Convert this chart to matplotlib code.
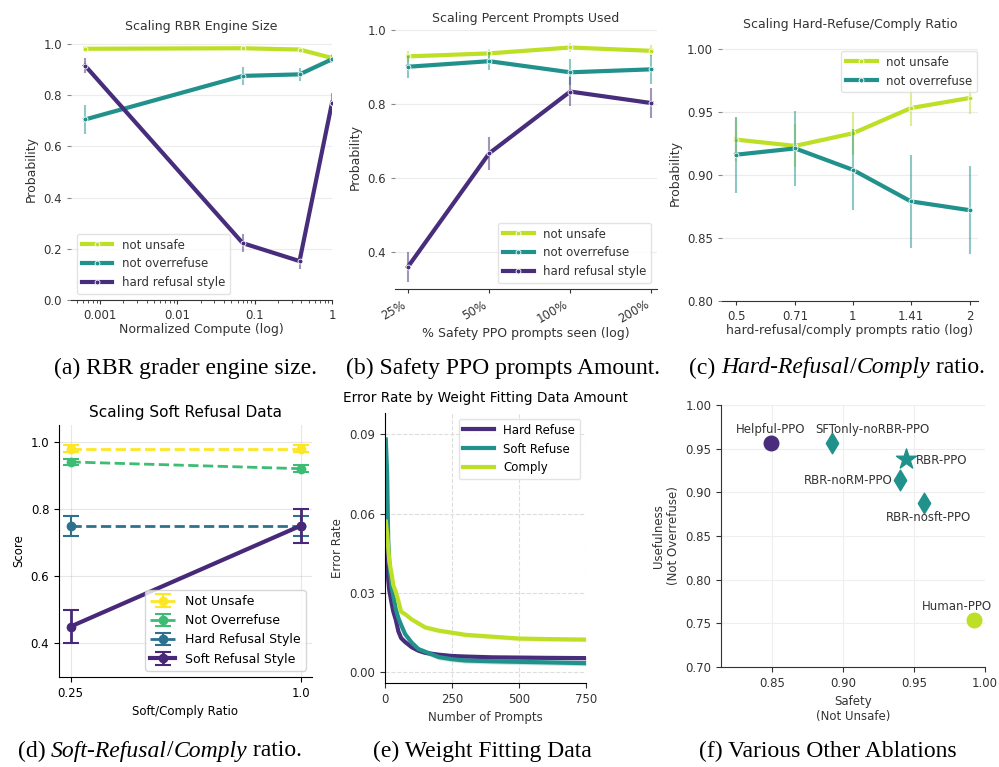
import numpy as np
import matplotlib
matplotlib.use('Agg')
from matplotlib import pyplot as plt
from matplotlib.ticker import NullLocator

# ---- (a) RBR grader engine size
a_compute = [0.00064, 0.07, 0.38, 1.0]
a_unsafe = [0.981, 0.983, 0.978, 0.945]
a_unsafe_err = [0.006, 0.006, 0.006, 0.015]
a_over = [0.705, 0.875, 0.881, 0.940]
a_over_err = [0.055, 0.035, 0.025, 0.015]
a_hard = [0.915, 0.222, 0.152, 0.770]
a_hard_err = [0.028, 0.035, 0.032, 0.04]

# ---- (b) safety PPO prompts amount
b_labels = ['25%', '50%', '100%', '200%']
b_unsafe = [0.928, 0.936, 0.952, 0.943]
b_unsafe_err = [0.015, 0.013, 0.012, 0.015]
b_over = [0.900, 0.915, 0.885, 0.893]
b_over_err = [0.03, 0.025, 0.035, 0.04]
b_hard = [0.360, 0.666, 0.833, 0.802]
b_hard_err = [0.04, 0.045, 0.038, 0.04]

# ---- (c) hard-refusal / comply ratio
c_ratio = [0.5, 0.71, 1.0, 1.41, 2.0]
c_ratio_labels = ['0.5', '0.71', '1', '1.41', '2']
c_unsafe = [0.928, 0.923, 0.933, 0.953, 0.961]
c_unsafe_err = [0.017, 0.017, 0.017, 0.014, 0.013]
c_over = [0.916, 0.921, 0.904, 0.879, 0.872]
c_over_err = [0.030, 0.030, 0.032, 0.037, 0.035]

# ---- (d) soft-refusal / comply ratio
d_ratio = [0.25, 1.0]
d_series = ['Not Unsafe', 'Not Overrefuse', 'Hard Refusal Style', 'Soft Refusal Style']
d_values = [[0.98, 0.98], [0.94, 0.92], [0.75, 0.75], [0.45, 0.75]]
d_errors = [[0.01, 0.01], [0.01, 0.01], [0.03, 0.03], [0.05, 0.05]]

# ---- (e) weight fitting data
e_prompts = [3, 8, 12, 16, 25, 31, 40, 50, 60, 75, 100, 125, 150, 200, 250, 300, 400, 500, 600, 750]
e_hard = [0.065, 0.045, 0.035, 0.031, 0.026, 0.023, 0.020, 0.0155, 0.013, 0.0115, 0.0095, 0.0082,
          0.0074, 0.0067, 0.0062, 0.0060, 0.0057, 0.0056, 0.0055, 0.0054]
e_soft = [0.088, 0.075, 0.050, 0.042, 0.032, 0.029, 0.024, 0.0205, 0.018, 0.0145, 0.0112, 0.0088,
          0.0078, 0.0058, 0.0050, 0.0045, 0.0042, 0.0040, 0.0038, 0.0035]
e_comply = [0.057, 0.052, 0.047, 0.042, 0.037, 0.033, 0.0305, 0.027, 0.023, 0.022, 0.020, 0.0185,
            0.017, 0.0158, 0.0150, 0.0142, 0.0135, 0.0128, 0.0126, 0.0124]

# ---- (f) other ablations
f_names = ['Helpful-PPO', 'SFTonly-noRBR-PPO', 'RBR-PPO', 'RBR-noRM-PPO', 'RBR-nosft-PPO', 'Human-PPO']
f_safety = [0.849, 0.892, 0.944, 0.940, 0.957, 0.992]
f_useful = [0.956, 0.956, 0.938, 0.914, 0.888, 0.754]

YG = '#bddf26'
TEAL = '#21918c'
PURP = '#472d7b'
DARK = '#333333'

W, H = 999, 767
fig = plt.figure(figsize=(W / 100, H / 100), dpi=100)


def add_ax(left, top, right, bottom):
    return fig.add_axes([left / W, 1 - bottom / H, (right - left) / W, (bottom - top) / H])


def sns_style(ax):
    for s in ['left', 'top', 'right']:
        ax.spines[s].set_visible(False)
    ax.spines['bottom'].set_color(DARK)
    ax.grid(axis='y', color='#ececec', lw=0.8)
    ax.set_axisbelow(True)
    ax.tick_params(colors=DARK, labelsize=8.5, length=3)
    ax.tick_params(axis='y', color='#888888')


def line_err(ax, x, y, err, color, label):
    y = np.array(y)
    err = np.array(err)
    ax.vlines(x, y - err, y + err, color=color, alpha=0.5, lw=1.5)
    ax.plot(x, y, color=color, lw=3, marker='o', ms=3.5, mec='white', mew=0.6, label=label)


def legend(ax, loc, **kw):
    lg = ax.legend(loc=loc, fontsize=8.5, handlelength=2.6, labelcolor=DARK, **kw)
    lg.get_frame().set_edgecolor('#dddddd')
    return lg


# (a)
ax = add_ax(71, 38, 332, 300)
sns_style(ax)
line_err(ax, a_compute, a_unsafe, a_unsafe_err, YG, 'not unsafe')
line_err(ax, a_compute, a_over, a_over_err, TEAL, 'not overrefuse')
line_err(ax, a_compute, a_hard, a_hard_err, PURP, 'hard refusal style')
ax.set_xscale('log')
ax.set_xlim(0.00042, 1.0)
ax.set_ylim(0, 1.023)
ax.set_xticks([0.001, 0.01, 0.1, 1])
ax.set_xticklabels(['0.001', '0.01', '0.1', '1'])
ax.set_yticks([0, 0.2, 0.4, 0.6, 0.8, 1.0])
ax.tick_params(axis='x', which='minor', length=2, color=DARK)
ax.set_title('Scaling RBR Engine Size', fontsize=9, color=DARK)
ax.set_xlabel('Normalized Compute (log)', fontsize=9, color=DARK, labelpad=1)
ax.set_ylabel('Probability', fontsize=9, color=DARK)
legend(ax, 'lower left')

# (b)
ax = add_ax(395, 26, 657, 289)
sns_style(ax)
bx = np.arange(len(b_labels))
line_err(ax, bx, b_unsafe, b_unsafe_err, YG, 'not unsafe')
line_err(ax, bx, b_over, b_over_err, TEAL, 'not overrefuse')
line_err(ax, bx, b_hard, b_hard_err, PURP, 'hard refusal style')
ax.set_xlim(-0.16, 3.07)
ax.set_ylim(0.3, 1.01)
ax.set_xticks(bx)
ax.set_xticklabels(b_labels, rotation=30, ha='right')
ax.set_yticks([0.4, 0.6, 0.8, 1.0])
ax.set_title('Scaling Percent Prompts Used', fontsize=9, color=DARK, pad=3)
ax.set_xlabel('% Safety PPO prompts seen (log)', fontsize=9, color=DARK, labelpad=1)
ax.set_ylabel('Probability', fontsize=9, color=DARK)
legend(ax, 'lower right')

# (c)
ax = add_ax(722, 45, 978, 301)
sns_style(ax)
line_err(ax, c_ratio, c_unsafe, c_unsafe_err, YG, 'not unsafe')
line_err(ax, c_ratio, c_over, c_over_err, TEAL, 'not overrefuse')
ax.set_xscale('log', base=2)
ax.xaxis.set_minor_locator(NullLocator())
ax.set_xlim(0.46, 2.1)
ax.set_xticks(c_ratio)
ax.set_xticklabels(c_ratio_labels)
ax.set_ylim(0.8, 1.003)
ax.set_yticks([0.80, 0.85, 0.90, 0.95, 1.00])
ax.set_yticklabels(['0.80', '0.85', '0.90', '0.95', '1.00'])
ax.set_title('Scaling Hard-Refuse/Comply Ratio', fontsize=9, color=DARK, pad=12)
ax.set_xlabel('hard-refusal/comply prompts ratio (log)', fontsize=9, color=DARK, labelpad=1)
ax.set_ylabel('Probability', fontsize=9, color=DARK)
legend(ax, 'upper right', bbox_to_anchor=(1.02, 1.0))

# (d)
ax = add_ax(59, 425, 312, 677)
d_colors = ['#fde725', '#3dbc74', '#2c728e', '#482878']
for i, name in enumerate(d_series):
    soft = i == 3
    ax.errorbar(d_ratio, d_values[i], yerr=d_errors[i], color=d_colors[i], marker='o', ms=6,
                ls='-' if soft else '--', lw=3 if soft else 2, capsize=6, elinewidth=2 if soft else 1.5,
                capthick=1.5, label=name)
ax.set_xlim(0.2125, 1.0375)
ax.set_ylim(0.3, 1.05)
ax.set_xticks(d_ratio)
ax.set_xticklabels(['0.25', '1.0'])
ax.set_yticks([0.4, 0.6, 0.8, 1.0])
ax.grid(alpha=0.3)
ax.spines['top'].set_visible(False)
ax.spines['right'].set_visible(False)
ax.tick_params(labelsize=8.5)
ax.set_title('Scaling Soft Refusal Data', fontsize=11)
ax.set_xlabel('Soft/Comply Ratio', fontsize=8.5)
ax.set_ylabel('Score', fontsize=8.5)
ax.legend(loc='lower right', fontsize=9)

# (e)
ax = add_ax(385, 413, 586, 683)
for vals, c, name, band in [(e_hard, PURP, 'Hard Refuse', 0.0007), (e_soft, TEAL, 'Soft Refuse', 0.001),
                            (e_comply, YG, 'Comply', 0.0008)]:
    v = np.array(vals)
    ax.fill_between(e_prompts, v - band, v + band, color=c, alpha=0.25, lw=0)
    ax.plot(e_prompts, v, color=c, lw=3, label=name)
ax.set_xlim(0, 750)
ax.set_ylim(-0.004, 0.098)
ax.set_xticks([0, 250, 500, 750])
ax.set_yticks([0.0, 0.03, 0.06, 0.09])
ax.set_yticklabels(['0.00', '0.03', '0.06', '0.09'])
ax.grid(ls='--', color='#dddddd', lw=0.8)
ax.spines['top'].set_visible(False)
ax.spines['right'].set_visible(False)
ax.tick_params(labelsize=8.5, colors=DARK)
ax.set_title('Error Rate by Weight Fitting Data Amount', fontsize=9.8, pad=8)
ax.set_xlabel('Number of Prompts', fontsize=8.5, color=DARK)
ax.set_ylabel('Error Rate', fontsize=8.5, color=DARK)
lg = ax.legend(loc='upper right', fontsize=8.5, handlelength=2.6)
lg.get_frame().set_edgecolor('#dddddd')

# (f)
ax = add_ax(721, 405, 985, 667)
f_colors = [PURP, TEAL, TEAL, TEAL, TEAL, YG]
f_markers = ['o', 'd', '*', 'd', 'd', 'o']
f_sizes = [110, 110, 230, 110, 110, 110]
f_text = [(0.849, 0.9725, 'center'), (0.921, 0.9725, 'center'), (0.951, 0.937, 'left'),
          (0.935, 0.914, 'right'), (0.960, 0.871, 'center'), (0.980, 0.769, 'center')]
for i, name in enumerate(f_names):
    ax.scatter(f_safety[i], f_useful[i], color=f_colors[i], marker=f_markers[i], s=f_sizes[i], zorder=3)
    tx, ty, ha = f_text[i]
    ax.text(tx, ty, name, ha=ha, va='center', fontsize=8.5, color=DARK)
ax.set_xlim(0.814, 1.0)
ax.set_ylim(0.7, 1.0)
ax.set_xticks([0.85, 0.90, 0.95, 1.00])
ax.set_xticklabels(['0.85', '0.90', '0.95', '1.00'])
ax.set_yticks([0.70, 0.75, 0.80, 0.85, 0.90, 0.95, 1.00])
ax.set_yticklabels(['0.70', '0.75', '0.80', '0.85', '0.90', '0.95', '1.00'])
ax.grid(color='#eeeeee')
ax.set_axisbelow(True)
ax.spines['top'].set_visible(False)
ax.spines['right'].set_visible(False)
ax.spines['left'].set_color(DARK)
ax.spines['bottom'].set_color(DARK)
ax.tick_params(labelsize=8.5, colors=DARK)
ax.set_xlabel('Safety\n(Not Unsafe)', fontsize=8.5, color=DARK)
ax.set_ylabel('Usefulness\n(Not Overrefuse)', fontsize=8.5, color=DARK)


# captions, italic parts drawn as separate pieces
renderer = fig.canvas.get_renderer()


def caption(cx, cy, pieces):
    texts = []
    for s, italic in pieces:
        t = fig.text(0, 1 - cy / H, s, fontsize=17, family='Liberation Serif',
                     style='italic' if italic else 'normal', va='center', ha='left')
        texts.append(t)
    widths = [t.get_window_extent(renderer).width for t in texts]
    x = cx - sum(widths) / 2
    for t, w in zip(texts, widths):
        t.set_x(x / W)
        x += w


caption(186, 368, [('(a) RBR grader engine size.', False)])
caption(503, 368, [('(b) Safety PPO prompts Amount.', False)])
caption(837, 368, [('(c) ', False), ('Hard-Refusal', True), ('/', False), ('Comply', True), (' ratio.', False)])
caption(160, 751, [('(d) ', False), ('Soft-Refusal', True), ('/', False), ('Comply', True), (' ratio.', False)])
caption(482, 751, [('(e) Weight Fitting Data', False)])
caption(828, 751, [('(f) Various Other Ablations', False)])

fig.savefig('out.png', dpi=100)
